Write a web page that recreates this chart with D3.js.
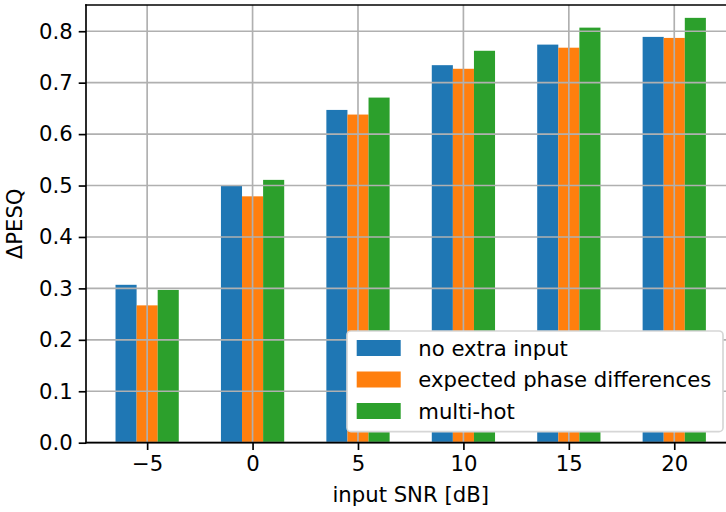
<!DOCTYPE html>
<html lang="en">
<head>
    <meta charset="UTF-8">
    <title>PESQ improvement vs input SNR</title>
    <script src="https://d3js.org/d3.v7.min.js"></script>
    <style>
        body { margin: 0; background: #fff; }
        text { font-family: "DejaVu Sans", sans-serif; }
    </style>
</head>
<body>
    <svg id="chart" width="726" height="512"></svg>

    <script>
        const snr = [-5, 0, 5, 10, 15, 20];
        const noExtra = [0.307, 0.500, 0.647, 0.734, 0.774, 0.789];
        const phaseDiff = [0.267, 0.479, 0.638, 0.727, 0.768, 0.787];
        const multiHot = [0.297, 0.511, 0.671, 0.762, 0.807, 0.826];
        const seriesNames = ["no extra input", "expected phase differences", "multi-hot"];
        const yTicks = [0, 0.1, 0.2, 0.3, 0.4, 0.5, 0.6, 0.7, 0.8];

        const width = 726, height = 512;
        const plot = { left: 86, right: 735.4, top: 5, bottom: 442.7 };
        const colors = ["#1f77b4", "#ff7f0e", "#2ca02c"];
        const fontSize = 21.2;

        const svg = d3.select("#chart");

        const x = d3.scaleLinear().domain([-7.9, 22.9]).range([plot.left, plot.right]);
        const y = d3.scaleLinear().domain([0, 0.851]).range([plot.bottom, plot.top]);

        const series = [noExtra, phaseDiff, multiHot];
        const barW = 1; // in data units (step is 5)

        // bars
        series.forEach((vals, i) => {
            svg.append("g")
                .selectAll("rect")
                .data(vals)
                .join("rect")
                .attr("x", (d, j) => x(snr[j] + (i - 1) * barW - barW / 2))
                .attr("width", x(barW) - x(0))
                .attr("y", d => y(d))
                .attr("height", d => y(0) - y(d))
                .attr("fill", colors[i]);
        });

        // grid drawn over the bars
        const grid = svg.append("g").attr("stroke", "#b0b0b0").attr("stroke-width", 1.67);
        grid.selectAll(".gx").data(snr).join("line")
            .attr("x1", d => x(d)).attr("x2", d => x(d))
            .attr("y1", plot.top).attr("y2", plot.bottom);
        grid.selectAll(".gy").data(yTicks).join("line")
            .attr("x1", plot.left).attr("x2", plot.right)
            .attr("y1", d => y(d)).attr("y2", d => y(d));

        // axes
        const xAxis = svg.append("g")
            .attr("transform", `translate(0,${plot.bottom})`)
            .call(d3.axisBottom(x).tickValues(snr).tickSize(7.3).tickPadding(5.5)
                .tickFormat(d => d < 0 ? "\u2212" + Math.abs(d) : d));
        const yAxis = svg.append("g")
            .attr("transform", `translate(${plot.left},0)`)
            .call(d3.axisLeft(y).tickValues(yTicks).tickSize(7.3).tickPadding(6)
                .tickFormat(d3.format(".1f")));

        [xAxis, yAxis].forEach(a => {
            a.select(".domain").remove();
            a.selectAll("line").attr("stroke", "#000").attr("stroke-width", 1.67);
            a.selectAll("text")
                .attr("fill", "#000")
                .style("font-size", fontSize + "px")
                .style("font-family", "DejaVu Sans");
        });

        // spines
        svg.append("line").attr("x1", plot.left).attr("x2", plot.left)
            .attr("y1", plot.top).attr("y2", plot.bottom)
            .attr("stroke", "#000").attr("stroke-width", 1.67).attr("stroke-linecap", "square");
        svg.append("line").attr("x1", plot.left).attr("x2", plot.right)
            .attr("y1", plot.bottom).attr("y2", plot.bottom)
            .attr("stroke", "#000").attr("stroke-width", 1.67).attr("stroke-linecap", "square");
        svg.append("line").attr("x1", plot.left).attr("x2", plot.right)
            .attr("y1", plot.top).attr("y2", plot.top)
            .attr("stroke", "#000").attr("stroke-width", 1.67).attr("stroke-linecap", "square");

        // axis labels
        svg.append("text")
            .attr("x", (plot.left + plot.right) / 2)
            .attr("y", 502)
            .attr("text-anchor", "middle")
            .style("font-size", fontSize + "px")
            .text("input SNR [dB]");

        svg.append("text")
            .attr("transform", `translate(22,${(plot.top + plot.bottom) / 2}) rotate(-90)`)
            .attr("text-anchor", "middle")
            .style("font-size", fontSize + "px")
            .text("\u0394PESQ");

        // legend
        const legend = svg.append("g");
        legend.append("rect")
            .attr("x", 347).attr("y", 331)
            .attr("width", 376).attr("height", 100.7)
            .attr("rx", 4).attr("ry", 4)
            .attr("fill", "#fff")
            .attr("stroke", "#d6d6d6").attr("stroke-width", 1.67);

        seriesNames.forEach((name, i) => {
            const cy = 348 + i * 31.5;
            legend.append("rect")
                .attr("x", 356.7).attr("y", cy - 8)
                .attr("width", 44).attr("height", 16)
                .attr("fill", colors[i]);
            legend.append("text")
                .attr("x", 418.3).attr("y", cy)
                .attr("dominant-baseline", "central")
                .style("font-size", fontSize + "px")
                .text(name);
        });
    </script>
</body>
</html>
